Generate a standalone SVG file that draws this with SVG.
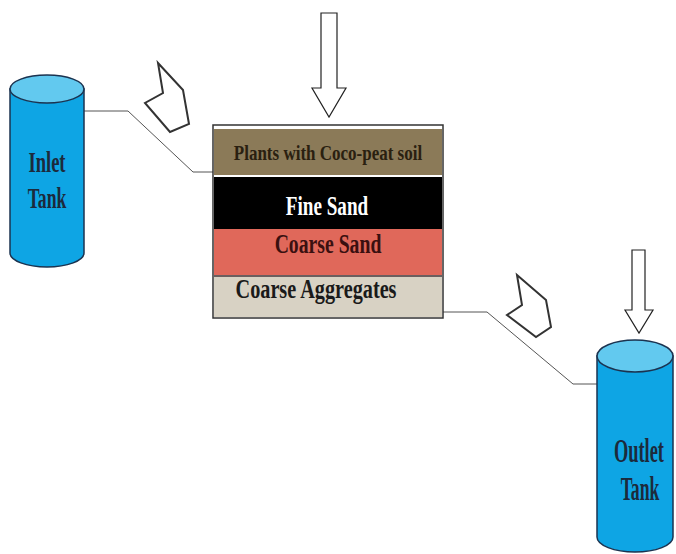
<svg xmlns="http://www.w3.org/2000/svg" width="676" height="554" viewBox="0 0 676 554">
<style>
.cyl{fill:#0ea5e4;stroke:#1b3350;stroke-width:1.5}
.cyltop{fill:#62c9ef;stroke:#1b3350;stroke-width:1.5}
.tanktxt{font-family:"Liberation Serif",serif;font-weight:bold;fill:#1c2a3c;text-anchor:middle}
.lay{font-family:"Liberation Serif",serif;font-weight:bold;text-anchor:middle}
.conn{fill:none;stroke:#555;stroke-width:1}
.chev{fill:#fff;stroke:#333;stroke-width:2;stroke-linejoin:miter}
.arrow{fill:#fff;stroke:#222;stroke-width:1.2}
</style>
<rect width="676" height="554" fill="#fff"/>
<g id="connectors">
<polyline class="conn" points="84,111 128,111 193,172 213,172"/>
<polyline class="conn" points="443,312 487,312 573,384 597,384"/>
</g>
<g id="chevron1"><polygon class="chev" points="158,63 183,90 189,124 170,132 145,103 163,93"/></g>
<g id="chevron2"><polygon class="chev" points="517,275 546,300 551,327 536,337 507,315 522,305"/></g>
<g id="arrow1"><polygon class="arrow" points="321,13 337,13 337,88 346,88 329,117 312,88 321,88"/></g>
<g id="arrow2"><polygon class="arrow" points="632,250 645,250 645,310 653,310 639,333 625,310 632,310"/></g>
<g id="inlet-tank">
<path class="cyl" d="M10,89 L10,253 A37,14 0 0 0 84,253 L84,89 Z"/>
<ellipse class="cyltop" cx="47" cy="89" rx="37" ry="14"/>
<text class="tanktxt" font-size="29" transform="translate(47,172) scale(0.64,1)">Inlet</text>
<text class="tanktxt" font-size="29" transform="translate(47,208) scale(0.61,1)">Tank</text>
</g>
<g id="outlet-tank">
<path class="cyl" d="M597,356 L597,537 A38,15 0 0 0 673,537 L673,356 Z"/>
<ellipse class="cyltop" cx="635" cy="356" rx="38" ry="16"/>
<text class="tanktxt" font-size="34" transform="translate(639,462) scale(0.54,1)">Outlet</text>
<text class="tanktxt" font-size="34" transform="translate(640,500) scale(0.52,1)">Tank</text>
</g>
<g id="filter-layers">
<rect x="213" y="125" width="230" height="193" fill="#fff" stroke="#333" stroke-width="1.5"/>
<rect x="214" y="129" width="228" height="46" fill="#8b7a58"/>
<rect x="214" y="177" width="228" height="52" fill="#000"/>
<rect x="214" y="229" width="228" height="46" fill="#e0685a"/>
<rect x="214" y="277" width="228" height="40" fill="#d8d2c4"/>
<line x1="214" y1="276" x2="442" y2="276" stroke="#3a2a2a" stroke-width="1.5"/>
<text class="lay" font-size="21" fill="#2a2010" transform="translate(328,160) scale(0.81,1)">Plants with Coco-peat soil</text>
<text class="lay" font-size="27" fill="#fff" transform="translate(327,215) scale(0.71,1)">Fine Sand</text>
<text class="lay" font-size="27" fill="#3a1010" transform="translate(328,253) scale(0.73,1)">Coarse Sand</text>
<text class="lay" font-size="27" fill="#1a1a1a" transform="translate(316,298) scale(0.75,1)">Coarse Aggregates</text>
</g>
</svg>
